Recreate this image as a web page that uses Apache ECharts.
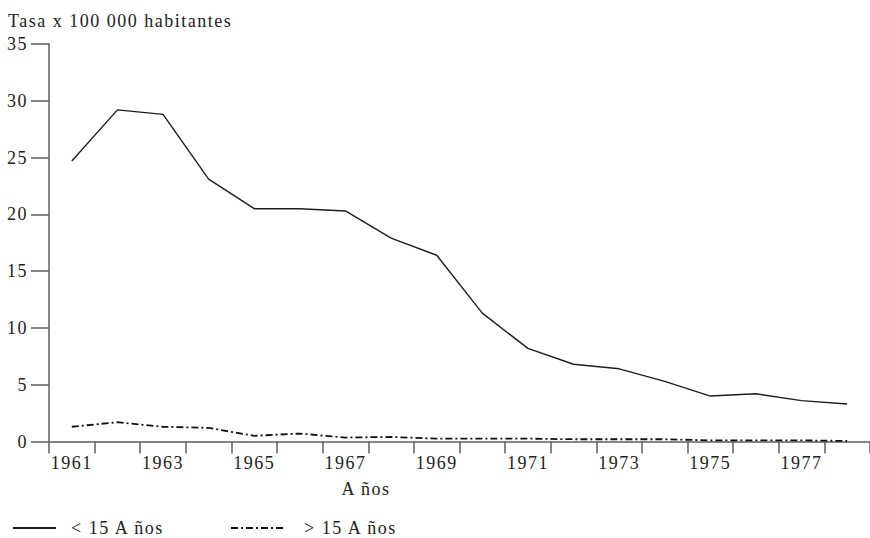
<!DOCTYPE html>
<html>
<head>
<meta charset="utf-8">
<script src="https://cdn.jsdelivr.net/npm/echarts@6/dist/echarts.min.js"></script>
<style>
  html, body { margin: 0; padding: 0; background: #fff; }
  #main { width: 870px; height: 538px; }
  #main text { letter-spacing: 1.5px; font-family: 'Liberation Serif', serif !important; }
</style>
</head>
<body>
<div id="main"></div>
<script>
const years = ['1961','1962','1963','1964','1965','1966','1967','1968','1969','1970','1971','1972','1973','1974','1975','1976','1977','1978'];
const menores15 = [24.7, 29.2, 28.8, 23.1, 20.5, 20.5, 20.3, 17.9, 16.4, 11.3, 8.2, 6.8, 6.4, 5.3, 4.0, 4.2, 3.6, 3.3];
const mayores15 = [1.3, 1.7, 1.3, 1.2, 0.5, 0.7, 0.35, 0.4, 0.25, 0.25, 0.25, 0.2, 0.2, 0.2, 0.1, 0.1, 0.1, 0.05];
const yTicks = { min: 0, max: 35, interval: 5 };
const seriesNames = ['< 15 A ños', '> 15 A ños'];
const yTitle = 'Tasa x 100 000 habitantes';
const xTitle = 'A ños';

const FONT = 'Liberation Serif';
const AXIS_COLOR = '#5e5e5e';
const TEXT_COLOR = '#222';

const legendBase = {
  top: 519, padding: 0, itemHeight: 14,
  itemStyle: { opacity: 0 },
  textStyle: { color: TEXT_COLOR, fontFamily: FONT, fontSize: 18 }
};

const chart = echarts.init(document.getElementById('main'), null, { renderer: 'svg' });
chart.setOption({
  animation: false,
  backgroundColor: '#fff',
  grid: { left: 49, top: 44, width: 835, height: 397.5, containLabel: false },
  xAxis: {
    type: 'category',
    data: years,
    boundaryGap: true,
    axisLine: { lineStyle: { color: AXIS_COLOR, width: 1.5 } },
    axisTick: { show: true, interval: 0, length: 12, alignWithLabel: false, lineStyle: { color: AXIS_COLOR, width: 1.5 } },
    axisLabel: { interval: 1, margin: 12, color: TEXT_COLOR, fontFamily: FONT, fontSize: 18 },
    splitLine: { show: false }
  },
  yAxis: {
    type: 'value',
    min: yTicks.min, max: yTicks.max, interval: yTicks.interval,
    axisLine: { show: true, lineStyle: { color: AXIS_COLOR, width: 1.5 } },
    axisTick: { show: true, inside: false, length: 18, lineStyle: { color: AXIS_COLOR, width: 1.5 } },
    axisLabel: { margin: 21, color: TEXT_COLOR, fontFamily: FONT, fontSize: 18 },
    splitLine: { show: false }
  },
  legend: [
    Object.assign({}, legendBase, {
      left: 12, itemWidth: 43, data: [seriesNames[0]],
      textStyle: Object.assign({}, legendBase.textStyle, { padding: [0, 0, 0, 10] })
    }),
    Object.assign({}, legendBase, {
      left: 230, itemWidth: 52, data: [seriesNames[1]],
      textStyle: Object.assign({}, legendBase.textStyle, { padding: [0, 0, 0, 16] })
    })
  ],
  graphic: [
    { type: 'text', x: 8, y: 20.5, style: { text: yTitle, fontFamily: FONT, fontSize: 18, fill: TEXT_COLOR, align: 'left', verticalAlign: 'middle' } },
    { type: 'text', x: 366, y: 489, style: { text: xTitle, fontFamily: FONT, fontSize: 18, fill: TEXT_COLOR, align: 'center', verticalAlign: 'middle' } }
  ],
  series: [
    {
      name: seriesNames[0], type: 'line', data: menores15,
      symbol: 'none', showSymbol: false,
      lineStyle: { color: '#1e1e1e', width: 1.4, type: 'solid' },
      itemStyle: { color: '#1e1e1e' }
    },
    {
      name: seriesNames[1], type: 'line', data: mayores15,
      symbol: 'none', showSymbol: false,
      lineStyle: { color: '#111', width: 1.8, type: [7, 3, 2, 3] },
      itemStyle: { color: '#111' }
    }
  ]
});
</script>
</body>
</html>
